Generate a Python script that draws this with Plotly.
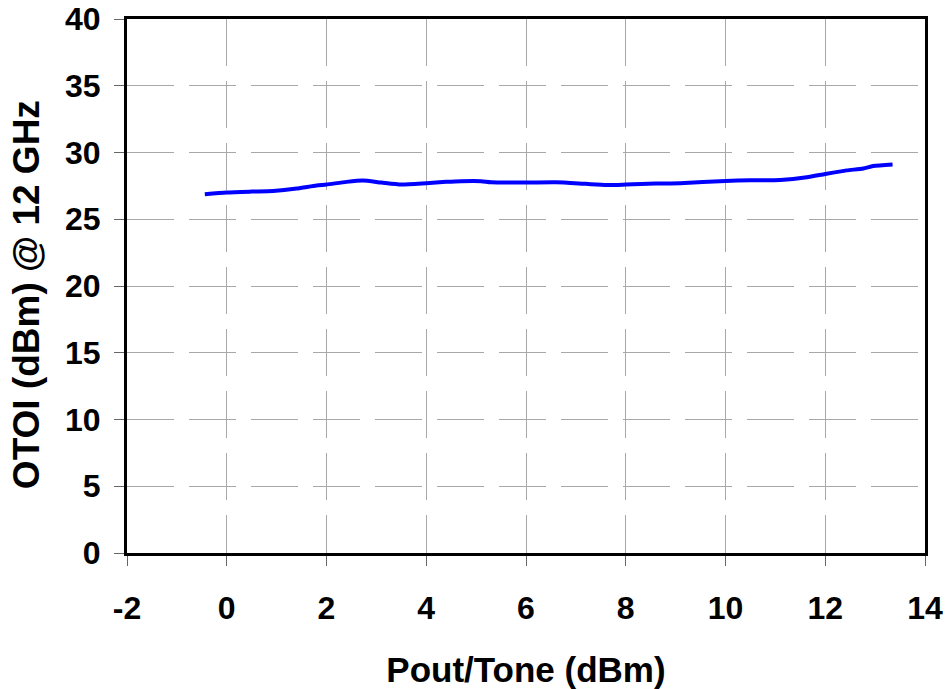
import plotly.graph_objects as go

pout = [-0.44, 0.0, 0.5, 0.93, 1.4, 1.8, 2.0, 2.4, 2.73, 3.1, 3.5, 4.0, 4.4, 4.7, 5.1, 5.3, 6.0, 6.6, 7.2, 7.62, 8.0, 8.6, 9.09, 10.0, 10.5, 11.1, 11.63, 12.0, 12.43, 12.76, 12.96, 13.35]
otoi = [26.87, 27.0, 27.07, 27.12, 27.3, 27.53, 27.6, 27.8, 27.9, 27.75, 27.6, 27.7, 27.8, 27.85, 27.85, 27.77, 27.75, 27.77, 27.65, 27.57, 27.6, 27.67, 27.7, 27.87, 27.92, 27.94, 28.14, 28.39, 28.66, 28.8, 28.99, 29.11]

x_ticks = [-2, 0, 2, 4, 6, 8, 10, 12, 14]
y_ticks = [0, 5, 10, 15, 20, 25, 30, 35, 40]

x_title = "Pout/Tone (dBm)"
y_title = "OTOI (dBm) @ 12 GHz"

FONT = "Arial, Liberation Sans, sans-serif"

fig = go.Figure()
fig.add_trace(go.Scatter(
    x=pout, y=otoi, mode="lines",
    line=dict(color="#0000FF", width=4, shape="spline", smoothing=0.6),
    showlegend=False, hoverinfo="skip",
))

axis_common = dict(
    showline=True, linecolor="black", linewidth=3, mirror=True,
    showgrid=True, gridcolor="#a8a8a8", gridwidth=1, griddash="47px,15px",
    zeroline=False, automargin=False,
    ticks="outside", ticklen=10, tickwidth=1, tickcolor="#666666",
    tickfont=dict(family=FONT, size=32, color="black", weight="bold"),
)

fig.update_xaxes(
    range=[-2, 14], tickvals=x_ticks, ticktext=[str(v) for v in x_ticks],
    title=dict(text=x_title, font=dict(family=FONT, size=35, color="black", weight="bold"), standoff=33),
    ticklabelstandoff=15,
    **axis_common,
)
fig.update_yaxes(
    range=[0, 40], tickvals=y_ticks, ticktext=[str(v) for v in y_ticks],
    ticklabelstandoff=7,
    **axis_common,
)

fig.add_annotation(
    text=y_title, textangle=-90, showarrow=False,
    xref="paper", yref="paper", x=-0.1265, y=0.483,
    xanchor="center", yanchor="middle",
    font=dict(family=FONT, size=37, color="black", weight="bold"),
)

fig.update_layout(
    width=947, height=689,
    margin=dict(l=127, r=22, t=19, b=136),
    plot_bgcolor="white", paper_bgcolor="white",
)

fig.write_html(
    "out.html",
    config={"displayModeBar": False},
    post_script="document.body.style.margin='0';document.body.style.overflow='hidden';",
)
